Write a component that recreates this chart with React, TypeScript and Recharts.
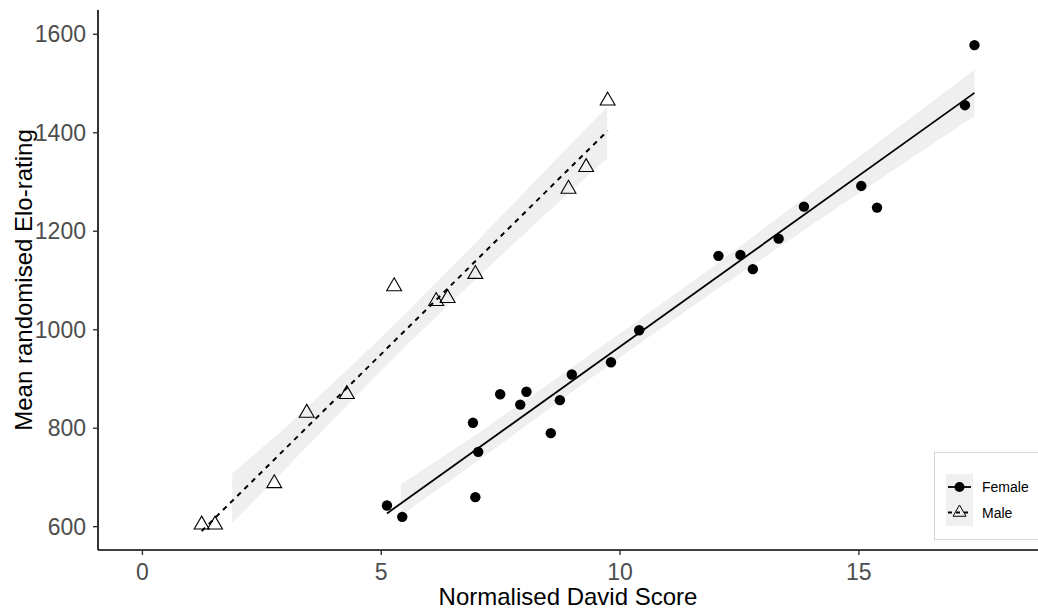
import {
  ComposedChart,
  Scatter,
  Line,
  Area,
  XAxis,
  YAxis,
  Legend,
} from 'recharts';

const FONT = '"Liberation Sans", Arial, sans-serif';

// Normalised David score vs mean randomised Elo-rating, per individual
const femaleX = [
  5.12, 5.44, 6.92, 7.03, 6.97, 7.49, 7.91, 8.04, 8.55, 8.74, 8.99, 9.81, 10.4,
  12.06, 12.52, 12.78, 13.32, 13.85, 15.05, 15.38, 17.22, 17.42,
];
const femaleY = [
  643, 620, 811, 752, 660, 869, 848, 874, 790, 857, 909, 934, 999,
  1150, 1152, 1123, 1185, 1250, 1292, 1248, 1456, 1578,
];

const maleX = [1.24, 1.52, 2.76, 3.44, 4.28, 5.27, 6.15, 6.39, 6.97, 8.92, 9.29, 9.74];
const maleY = [604, 604, 688, 831, 869, 1088, 1058, 1064, 1113, 1286, 1330, 1465];

// fitted lines (end points)
const femaleFitX = [5.12, 17.42];
const femaleFitY = [627, 1481];
const maleFitX = [1.24, 9.74];
const maleFitY = [591, 1404];

// confidence bands around the fits
const femaleBandX = [5.41, 7, 9, 10.5, 12, 14, 16, 17.42];
const femaleBandLow = [623, 732, 874, 978, 1080, 1212, 1342, 1434];
const femaleBandHigh = [686, 788, 924, 1027, 1132, 1278, 1424, 1528];

const maleBandX = [1.88, 3, 4.5, 5.5, 7, 8.5, 9.73];
const maleBandLow = [607, 718, 868, 966, 1105, 1240, 1348];
const maleBandHigh = [708, 802, 938, 1032, 1179, 1330, 1453];

const xTicks = [0, 5, 10, 15];
const yTicks = [600, 800, 1000, 1200, 1400, 1600];

const zipXY = (xs: number[], ys: number[]) => xs.map((x, i) => ({ x, y: ys[i] }));
const zipBand = (xs: number[], lo: number[], hi: number[]) =>
  xs.map((x, i) => ({ x, band: [lo[i], hi[i]] }));

const femalePoints = zipXY(femaleX, femaleY);
const malePoints = zipXY(maleX, maleY);
const femaleFit = zipXY(femaleFitX, femaleFitY);
const maleFit = zipXY(maleFitX, maleFitY);
const femaleBand = zipBand(femaleBandX, femaleBandLow, femaleBandHigh);
const maleBand = zipBand(maleBandX, maleBandLow, maleBandHigh);

// open triangle, centred like R's pch 2
const TRI_R = 8.6;
function triPath(cx: number, cy: number, r = TRI_R) {
  const hx = r * 0.866;
  return `M${cx},${cy - r}L${cx + hx},${cy + r / 2}L${cx - hx},${cy + r / 2}Z`;
}

const Triangle = (props: any) => {
  const { cx, cy } = props;
  if (cx == null || cy == null) return null;
  return <path d={triPath(cx, cy)} fill="none" stroke="#000" strokeWidth={1.1} />;
};

const Dot = (props: any) => {
  const { cx, cy } = props;
  if (cx == null || cy == null) return null;
  return <circle cx={cx} cy={cy} r={5.2} fill="#000" />;
};

function SexLegend() {
  return (
    <div
      style={{
        width: 108,
        height: 88,
        border: '1.5px solid #d6d6d6',
        boxSizing: 'border-box',
        background: '#fff',
      }}
    >
      <svg width={106} height={86} style={{ display: 'block' }}>
        <rect x={11} y={21} width={27} height={52} fill="#f0f0f0" />
        <line x1={13} x2={36} y1={34} y2={34} stroke="#000" strokeWidth={1.8} />
        <circle cx={24.5} cy={34} r={5} fill="#000" />
        <line x1={13} x2={36} y1={59.5} y2={59.5} stroke="#000" strokeWidth={1.8} strokeDasharray="4 4" />
        <path d={triPath(24.5, 59.5, 7.5)} fill="none" stroke="#000" strokeWidth={1} />
        <text x={47} y={39} fontSize={14} fontFamily={FONT} fill="#000">Female</text>
        <text x={47} y={64.5} fontSize={14} fontFamily={FONT} fill="#000">Male</text>
      </svg>
    </div>
  );
}

const tickStyle = { fontSize: 23, fill: '#4d4d4d', fontFamily: FONT };

export default function App() {
  return (
    <div
      style={{
        position: 'absolute',
        left: 0,
        top: 0,
        width: 1038,
        height: 611,
        overflow: 'hidden',
        background: '#fff',
      }}
    >
      <ComposedChart width={1038} height={611} margin={{ top: 10, right: 0, bottom: 0, left: 0 }}>
        <XAxis
          type="number"
          dataKey="x"
          domain={[-0.93, 18.75]}
          ticks={xTicks}
          allowDataOverflow
          height={61}
          tick={tickStyle}
          tickSize={5}
          tickMargin={9}
          axisLine={{ stroke: '#000', strokeWidth: 1.6 }}
          tickLine={{ stroke: '#333', strokeWidth: 1.4 }}
          label={{
            value: 'Normalised David Score',
            position: 'insideBottom',
            offset: 6,
            style: { fontSize: 24, fill: '#000', fontFamily: FONT },
          }}
        />
        <YAxis
          type="number"
          domain={[552.7, 1649.3]}
          ticks={yTicks}
          allowDataOverflow
          width={98}
          tick={tickStyle}
          tickSize={5}
          tickMargin={7}
          axisLine={{ stroke: '#000', strokeWidth: 1.6 }}
          tickLine={{ stroke: '#333', strokeWidth: 1.4 }}
          label={{
            value: 'Mean randomised Elo-rating',
            angle: -90,
            position: 'insideLeft',
            offset: 23,
            style: { fontSize: 24, fill: '#000', fontFamily: FONT, textAnchor: 'middle' },
          }}
        />
        <Area
          data={femaleBand}
          dataKey="band"
          type="linear"
          stroke="none"
          fill="#efefef"
          fillOpacity={1}
          isAnimationActive={false}
          activeDot={false}
        />
        <Area
          data={maleBand}
          dataKey="band"
          type="linear"
          stroke="none"
          fill="#efefef"
          fillOpacity={1}
          isAnimationActive={false}
          activeDot={false}
        />
        <Line
          data={femaleFit}
          dataKey="y"
          type="linear"
          stroke="#000"
          strokeWidth={1.8}
          dot={false}
          activeDot={false}
          isAnimationActive={false}
        />
        <Line
          data={maleFit}
          dataKey="y"
          type="linear"
          stroke="#000"
          strokeWidth={2}
          strokeDasharray="5 5"
          dot={false}
          activeDot={false}
          isAnimationActive={false}
        />
        <Scatter data={femalePoints} dataKey="y" shape={<Dot />} isAnimationActive={false} />
        <Scatter data={malePoints} dataKey="y" shape={<Triangle />} isAnimationActive={false} />
        <Legend
          layout="vertical"
          align="center"
          verticalAlign="middle"
          content={<SexLegend />}
          wrapperStyle={{ left: 934, top: 452, width: 108, height: 88 }}
        />
      </ComposedChart>
    </div>
  );
}
